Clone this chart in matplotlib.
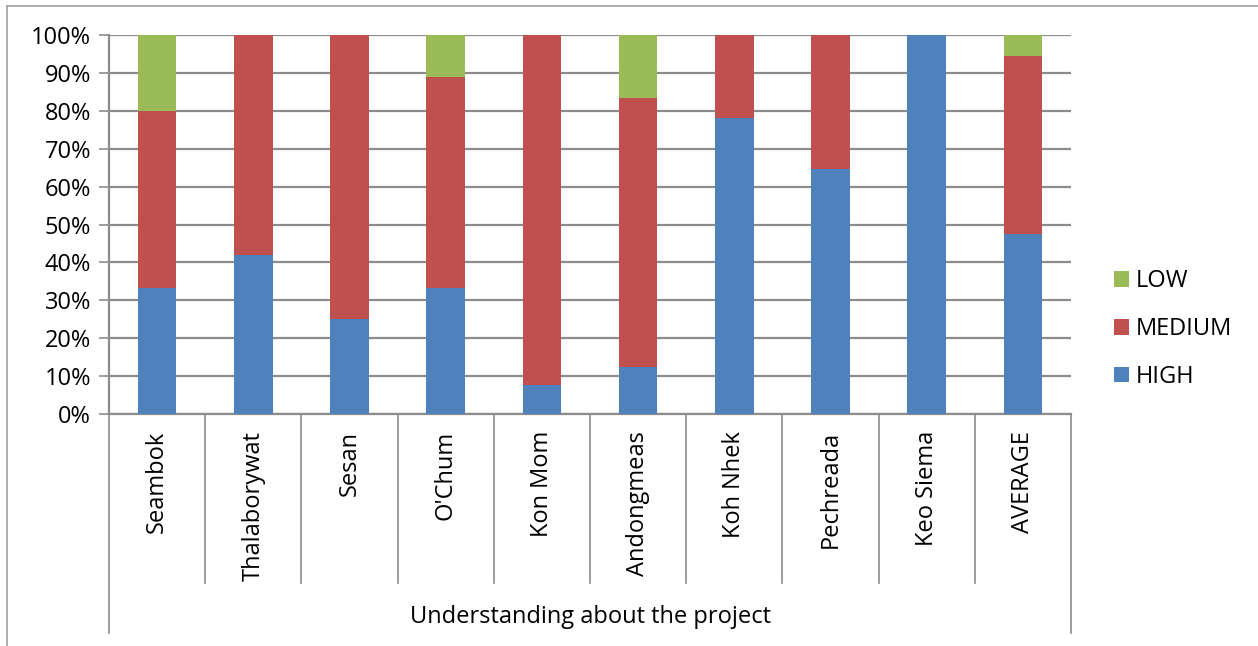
import matplotlib.pyplot as plt
from matplotlib.lines import Line2D
import numpy as np

plt.rcParams['font.family'] = ['Open Sans', 'DejaVu Sans']

sites = ['Seambok', 'Thalaborywat', 'Sesan', "O'Chum", 'Kon Mom',
         'Andongmeas', 'Koh Nhek', 'Pechreada', 'Keo Siema', 'AVERAGE']
high = [33.3, 42.0, 25.0, 33.3, 7.7, 12.5, 78.0, 64.7, 100.0, 47.4]
medium = [46.7, 58.0, 75.0, 55.6, 92.3, 70.8, 22.0, 35.3, 0.0, 47.1]
low = [20.0, 0.0, 0.0, 11.1, 0.0, 16.7, 0.0, 0.0, 0.0, 5.5]
group_label = 'Understanding about the project'

c_high, c_med, c_low = '#4F81BD', '#C0504D', '#9BBB59'
grid_col = '#8C8C8C'
fs = 17

W, H = 1258, 646
fig = plt.figure(figsize=(W / 100, H / 100), dpi=100)
ax = fig.add_axes([109 / W, 1 - 414 / H, (1071 - 109) / W, (414 - 35) / H])

x = np.arange(len(sites))
high = np.array(high)
medium = np.array(medium)
low = np.array(low)
b1 = ax.bar(x, high, 0.4, color=c_high, zorder=3)
b2 = ax.bar(x, medium, 0.4, bottom=high, color=c_med, zorder=3)
b3 = ax.bar(x, low, 0.4, bottom=high + medium, color=c_low, zorder=3)

ax.set_xlim(-0.5, len(sites) - 0.5)
ax.set_ylim(0, 100)
ax.set_yticks(np.arange(0, 101, 10))
ax.set_yticklabels([f'{v}%' for v in range(0, 101, 10)], fontsize=fs)
ax.yaxis.grid(True, color=grid_col, linewidth=1.6, zorder=0)
ax.tick_params(axis='y', length=7, width=1.2, color=grid_col, pad=6)
ax.set_xticks([])

for s in ['top', 'right']:
    ax.spines[s].set_visible(False)
for s in ['left', 'bottom']:
    ax.spines[s].set_color(grid_col)
    ax.spines[s].set_linewidth(1.6)

# category dividers and group frame below the axis
trans = ax.get_xaxis_transform()
for k in range(len(sites) + 1):
    bottom = -0.578 if k in (0, len(sites)) else -0.446
    ax.add_line(Line2D([k - 0.5, k - 0.5], [0, bottom], transform=trans,
                       color=grid_col, linewidth=1.2, clip_on=False))

for xi, name in zip(x, sites):
    ax.text(xi, -0.045, name, transform=trans, rotation=90, ha='center',
            va='top', fontsize=fs)

ax.text((len(sites) - 1) / 2, -0.535, group_label, transform=trans,
        ha='center', va='center', fontsize=fs)

ax.legend([b3, b2, b1], ['LOW', 'MEDIUM', 'HIGH'], loc='center left',
          bbox_to_anchor=(1.032, 0.224), frameon=False, fontsize=fs,
          handlelength=0.65, handleheight=0.65, handletextpad=0.3,
          labelspacing=1.0, borderpad=0)

# outer chart border
border = '#A0A0A0'
fig.add_artist(Line2D([7 / W, 7 / W], [0, 1 - 6 / H], color=border, linewidth=1.2))
fig.add_artist(Line2D([7 / W, 1], [1 - 6 / H, 1 - 6 / H], color=border, linewidth=1.2))

fig.savefig('out.png', dpi=100)
